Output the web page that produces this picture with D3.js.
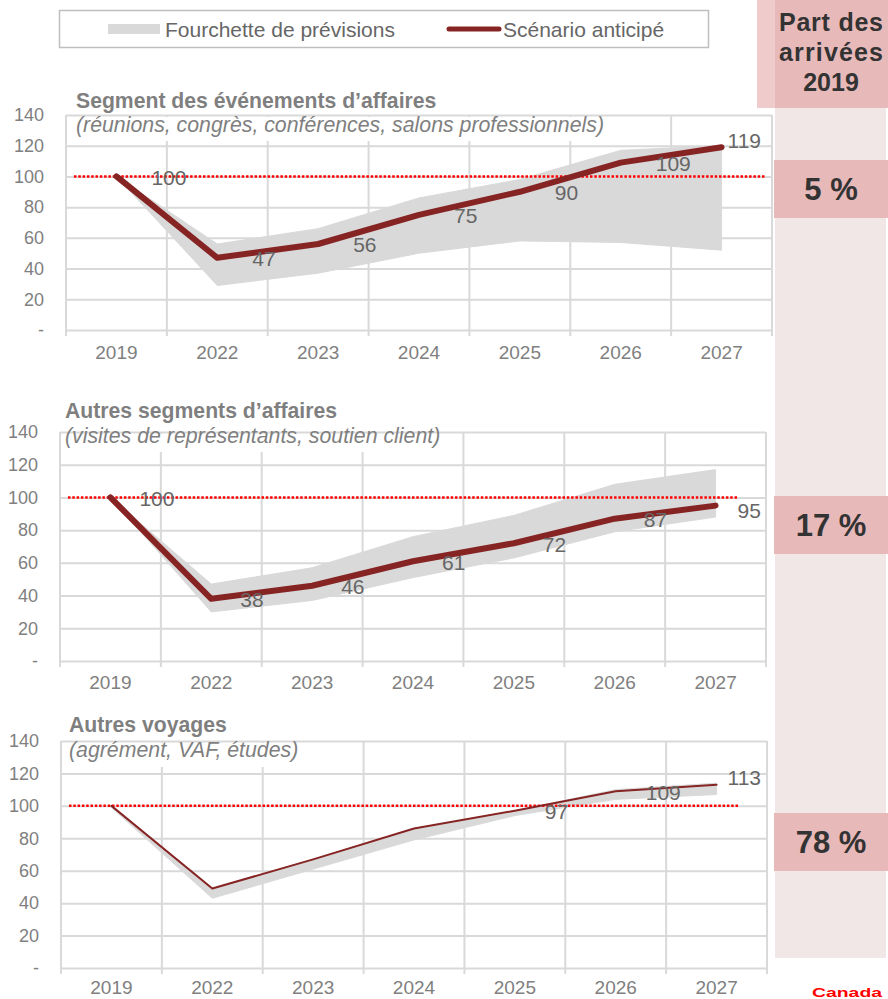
<!DOCTYPE html>
<html lang="fr">
<head>
<meta charset="UTF-8">
<title>Prévisions des arrivées par segment</title>
<script src="https://d3js.org/d3.v7.min.js"></script>
<style>
    body { margin: 0; background: #fff; }
    svg text { font-family: "Liberation Sans", Arial, sans-serif; }
</style>
</head>
<body>
<script>

// ---- data ----
var years = ["2019", "2022", "2023", "2024", "2025", "2026", "2027"];

var eventsScenario = [100, 47, 56, 75, 90, 109, 119];
var eventsLow      = [100, 29, 37, 50, 58, 57, 52];
var eventsHigh     = [100, 56, 66, 86, 98, 117, 120];

var otherBizScenario = [100, 38, 46, 61, 72, 87, 95];
var otherBizLow      = [100, 30, 37, 51, 63, 79, 88];
var otherBizHigh     = [100, 47, 57, 76, 89, 108, 117];

var leisureScenario = [100, 49, 67, 86, 97, 109, 113];
var leisureLow      = [99, 43, 61, 79, 94, 104, 107];
var leisureHigh     = [100, 49, 67, 86, 97, 110, 114];

var yTicks = [0, 20, 40, 60, 80, 100, 120, 140];
var shares = ["5 %", "17 %", "78 %"];

var titles = ["Segment des événements d’affaires", "Autres segments d’affaires", "Autres voyages"];
var subtitles = ["(réunions, congrès, conférences, salons professionnels)",
                 "(visites de représentants, soutien client)",
                 "(agrément, VAF, études)"];

var W = 888, H = 999;
var svg = d3.select("body").append("svg")
    .attr("width", W)
    .attr("height", H);

// right column
svg.append("rect").attr("x", 775).attr("y", 0).attr("width", 111).attr("height", 958).attr("fill", "#f1e7e7");
svg.append("rect").attr("x", 757).attr("y", 0).attr("width", 18).attr("height", 108).attr("fill", "#f0cbcb");
svg.append("rect").attr("x", 775).attr("y", 0).attr("width", 113).attr("height", 108).attr("fill", "#e8b9b9");
["Part des", "arrivées", "2019"].forEach(function (t, i) {
    svg.append("text")
        .attr("x", 831).attr("y", 31 + i * 30)
        .attr("text-anchor", "middle")
        .attr("font-size", 25).attr("font-weight", "bold")
        .attr("fill", "#333")
        .attr("textLength", i === 2 ? null : 104)
        .text(t);
});

// legend
var leg = svg.append("g");
leg.append("rect").attr("x", 59.5).attr("y", 10.5).attr("width", 649).attr("height", 37)
    .attr("fill", "#fff").attr("stroke", "#bfbfbf").attr("stroke-width", 1.5);
leg.append("rect").attr("x", 108).attr("y", 24).attr("width", 52).attr("height", 10).attr("fill", "#d9d9d9");
leg.append("text").attr("x", 165).attr("y", 36.5).attr("font-size", 21).attr("fill", "#666").text("Fourchette de prévisions");
leg.append("line").attr("x1", 449).attr("x2", 499).attr("y1", 29).attr("y2", 29)
    .attr("stroke", "#862424").attr("stroke-width", 5).attr("stroke-linecap", "round");
leg.append("text").attr("x", 503).attr("y", 36.5).attr("font-size", 21).attr("fill", "#666").text("Scénario anticipé");

// panels (layout only)
var panels = [
    {left: 66, right: 772, top: 115, bottom: 330, titleX: 76, titleY: 108, subY: 132, xPad: 16,
     mask: [68, 117, 544, 24], lineW: 6, dx: 35, lastDx: 6, lastDy: -7, refEnd: 765, shareY: 160},
    {left: 60, right: 766, top: 432, bottom: 661, titleX: 65, titleY: 418, subY: 443, xPad: 15,
     mask: [62, 434, 386, 18], lineW: 6, dx: 29, lastDx: 22, lastDy: 5, refEnd: 738, shareY: 496},
    {left: 61, right: 767, top: 741, bottom: 968, titleX: 69, titleY: 732, subY: 757, xPad: 13,
     mask: [63, 743, 247, 24], lineW: 2, dx: 30, lastDx: 11, lastDy: -7, refEnd: 738, shareY: 813}
];
var series = [
    [eventsScenario, eventsLow, eventsHigh, 0],
    [otherBizScenario, otherBizLow, otherBizHigh, 0],
    [leisureScenario, leisureLow, leisureHigh, 4]
];

panels.forEach(function (p, k) {
    var scen = series[k][0], low = series[k][1], high = series[k][2], firstLabel = series[k][3];
    var g = svg.append("g");

    var x = d3.scaleBand().domain(years).range([p.left, p.right]).padding(0);
    var y = d3.scaleLinear().domain([0, 140]).range([p.bottom, p.top]);
    var cx = function (i) { return x(years[i]) + x.bandwidth() / 2; };

    // horizontal grid + y labels
    g.append("g")
        .attr("transform", "translate(" + p.left + ",0)")
        .call(d3.axisLeft(y).tickValues(yTicks).tickSize(-(p.right - p.left)).tickPadding(22)
            .tickFormat(function (d) { return d === 0 ? "-" : d; }))
        .call(function (a) {
            a.select(".domain").remove();
            a.selectAll("line").attr("stroke", "#d9d9d9").attr("stroke-width", 2);
            a.selectAll("text").attr("fill", "#808080").attr("font-size", 18)
                .style("font-family", "Liberation Sans, Arial, sans-serif");
        });

    // vertical grid + x labels
    var edges = years.map(function (d) { return x(d); }).concat([p.right]);
    g.selectAll(".vgrid").data(edges).enter().append("line")
        .attr("x1", function (d) { return d; }).attr("x2", function (d) { return d; })
        .attr("y1", p.top).attr("y2", p.bottom + 6)
        .attr("stroke", "#d9d9d9").attr("stroke-width", 2);
    g.append("g")
        .attr("transform", "translate(0," + p.bottom + ")")
        .call(d3.axisBottom(x).tickSize(0).tickPadding(p.xPad))
        .call(function (a) {
            a.select(".domain").remove();
            a.selectAll("text").attr("fill", "#808080").attr("font-size", 19)
                .style("font-family", "Liberation Sans, Arial, sans-serif");
        });

    // subtitle mask
    g.append("rect").attr("x", p.mask[0]).attr("y", p.mask[1]).attr("width", p.mask[2]).attr("height", p.mask[3])
        .attr("fill", "#fff");
    g.append("text").attr("x", p.titleX).attr("y", p.titleY)
        .attr("font-size", 21.2).attr("font-weight", "bold").attr("fill", "#7f7f7f").text(titles[k]);
    g.append("text").attr("x", p.titleX).attr("y", p.subY)
        .attr("font-size", 21.3).attr("font-style", "italic").attr("fill", "#7f7f7f").text(subtitles[k]);

    // range band
    var area = d3.area()
        .x(function (d, i) { return cx(i); })
        .y0(function (d, i) { return y(low[i]); })
        .y1(function (d, i) { return y(high[i]); });
    g.append("path").datum(years).attr("d", area).attr("fill", "#d9d9d9")
        .attr("stroke", "#d9d9d9").attr("stroke-width", 1).attr("stroke-linejoin", "round");

    // 100 reference
    g.append("line").attr("x1", p.left + 8).attr("x2", p.refEnd)
        .attr("y1", y(100)).attr("y2", y(100))
        .attr("stroke", "#ff0000").attr("stroke-width", 2.5).attr("stroke-dasharray", "2.5,1.8");

    // scenario
    var line = d3.line()
        .x(function (d, i) { return cx(i); })
        .y(function (d) { return y(d); });
    g.append("path").datum(scen).attr("d", line).attr("fill", "none")
        .attr("stroke", "#862424").attr("stroke-width", p.lineW)
        .attr("stroke-linejoin", "round").attr("stroke-linecap", "round");

    // value labels
    scen.forEach(function (v, i) {
        if (i < firstLabel) return;
        var last = i === scen.length - 1;
        g.append("text")
            .attr("x", cx(i) + (last ? p.lastDx : p.dx))
            .attr("y", y(v) + (last ? p.lastDy : 1))
            .attr("dy", "0.35em")
            .attr("font-size", 21).attr("fill", "#666")
            .text(v);
    });

    // share box
    svg.append("rect").attr("x", 774).attr("y", p.shareY).attr("width", 114).attr("height", 58).attr("fill", "#e8b9b9");
    svg.append("text").attr("x", 831).attr("y", p.shareY + 29).attr("dy", "0.35em")
        .attr("text-anchor", "middle").attr("font-size", 31).attr("font-weight", "bold").attr("fill", "#333")
        .text(shares[k]);
});

// wordmark at the bottom corner
svg.append("text").attr("x", 812).attr("y", 997)
    .attr("font-size", 13).attr("font-weight", "bold").attr("fill", "#ff0000")
    .attr("font-family", "DejaVu Serif, serif")
    .attr("textLength", 70).attr("lengthAdjust", "spacingAndGlyphs")
    .text("Canada");

</script>
</body>
</html>
